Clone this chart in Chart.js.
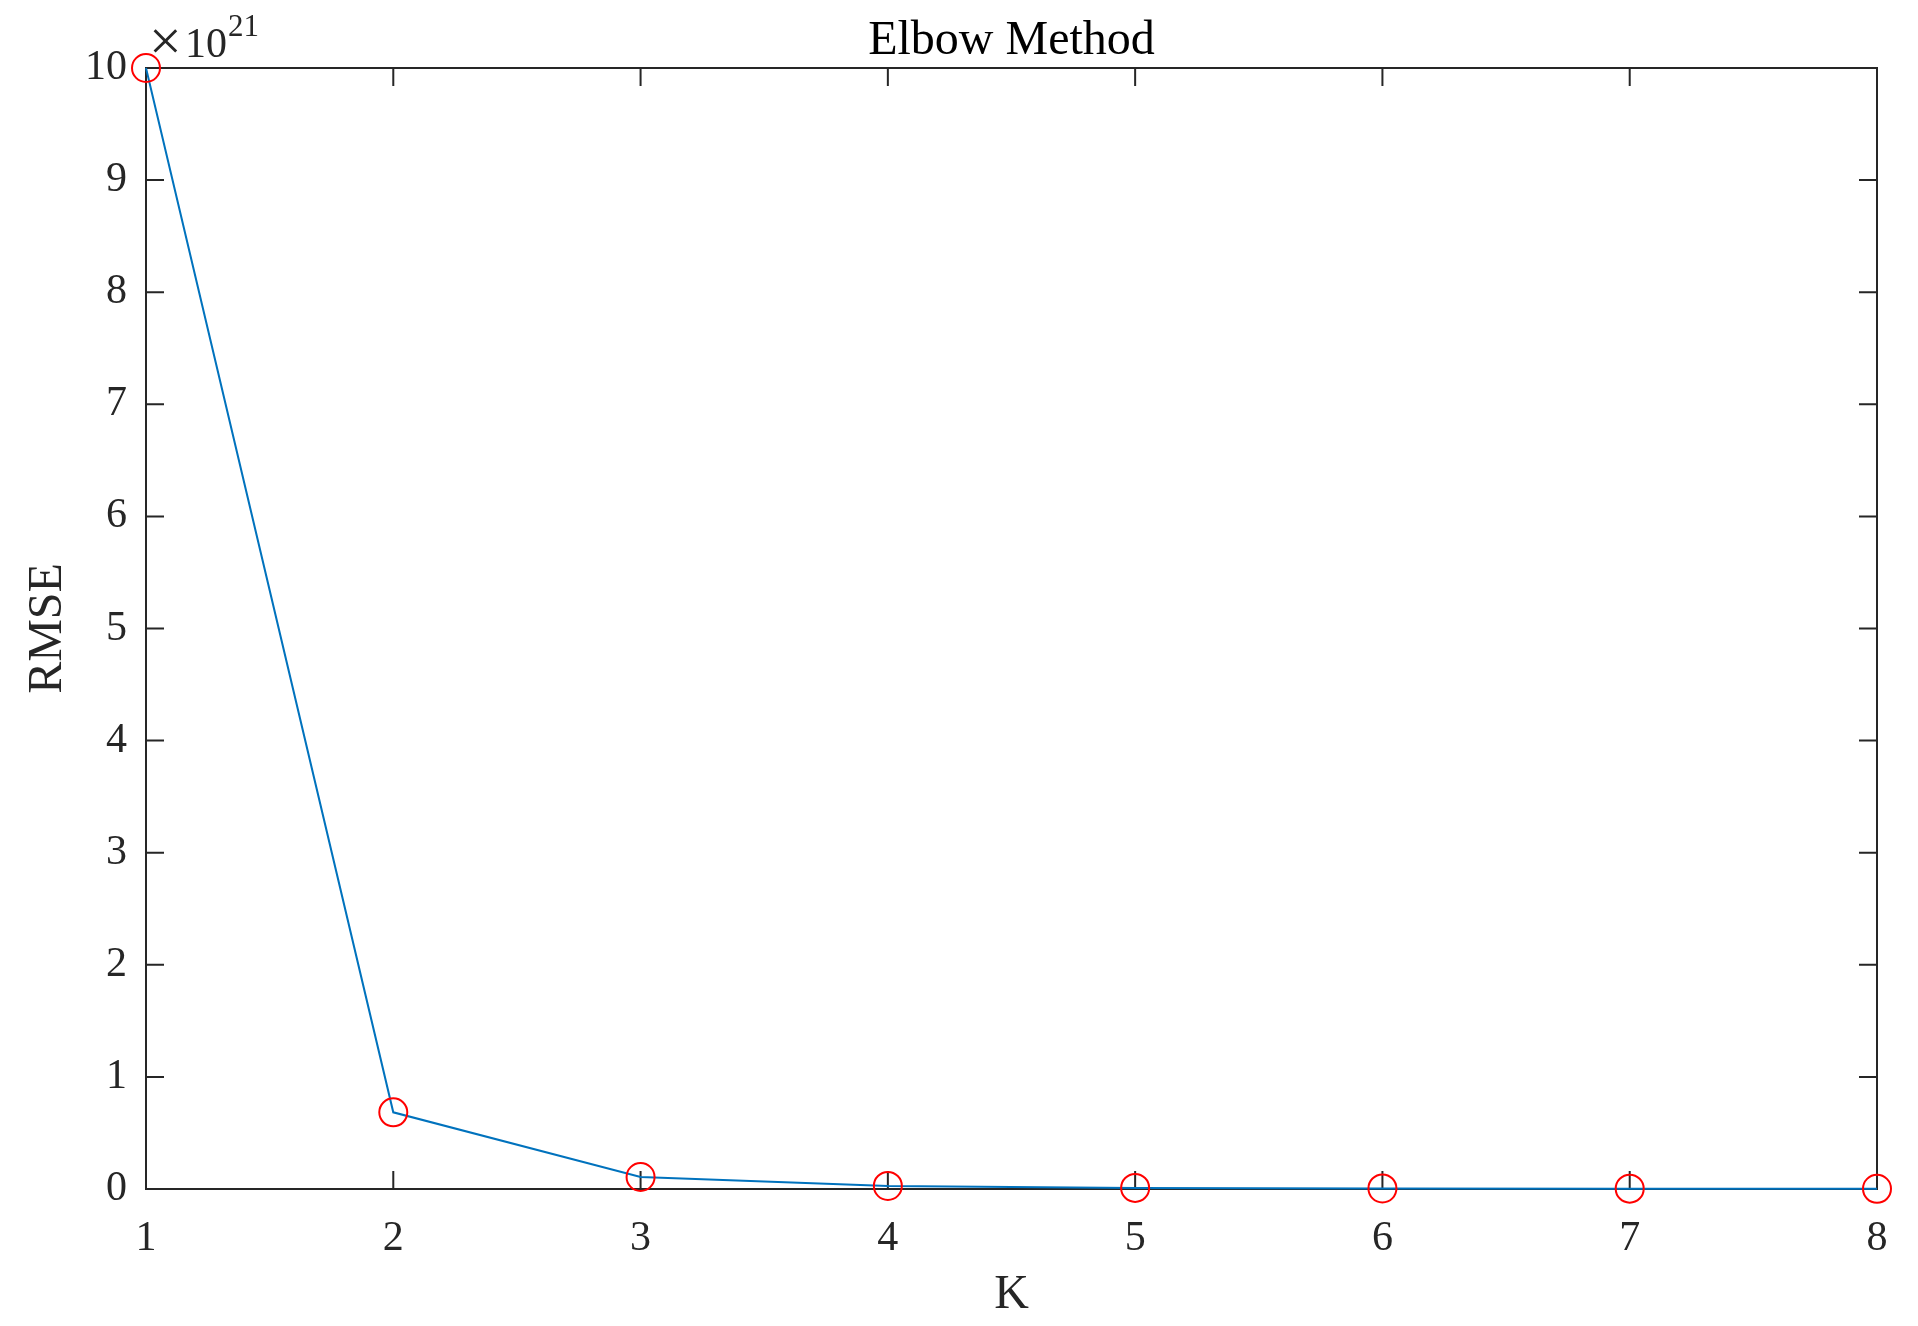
<!DOCTYPE html>
<html>
<head>
<meta charset="utf-8">
<script src="https://cdn.jsdelivr.net/npm/chart.js@4"></script>
<style>
  html, body { margin: 0; padding: 0; background: #ffffff; }
  #wrap { width: 1918px; height: 1326px; }
</style>
</head>
<body>
<div id="wrap"><canvas id="myChart" width="1918" height="1326"></canvas></div>
<script>
// data (RMSE in units of 10^21)
var K = [1, 2, 3, 4, 5, 6, 7, 8];
var RMSE = [10.0, 0.684, 0.107, 0.027, 0.010, 0.005, 0.003, 0.002];
var yExponent = '21';
var titleText = 'Elbow Method';
var xTitle = 'K';
var yTitle = 'RMSE';

var axisColor = '#262626';
var fontFam = "'Liberation Serif', 'Times New Roman', serif";

var points = K.map(function (k, i) { return { x: k, y: RMSE[i] }; });

// box around the plot, inward ticks on all four sides, titles
var matlabAxes = {
    id: 'matlabAxes',
    beforeDatasetsDraw: function (chart) {
        var ctx = chart.ctx;
        var a = chart.chartArea;
        var xs = chart.scales.x, ys = chart.scales.y;
        var tl = 18;
        ctx.save();
        ctx.strokeStyle = axisColor;
        ctx.lineWidth = 2;
        ctx.strokeRect(a.left, a.top, a.right - a.left, a.bottom - a.top);
        ctx.beginPath();
        xs.ticks.forEach(function (t) {
            var px = xs.getPixelForValue(t.value);
            ctx.moveTo(px, a.bottom); ctx.lineTo(px, a.bottom - tl);
            ctx.moveTo(px, a.top); ctx.lineTo(px, a.top + tl);
        });
        ys.ticks.forEach(function (t) {
            var py = ys.getPixelForValue(t.value);
            ctx.moveTo(a.left, py); ctx.lineTo(a.left + tl, py);
            ctx.moveTo(a.right, py); ctx.lineTo(a.right - tl, py);
        });
        ctx.stroke();
        ctx.restore();
    },
    afterDraw: function (chart) {
        var ctx = chart.ctx;
        var a = chart.chartArea;
        var cx = (a.left + a.right) / 2;
        var cy = (a.top + a.bottom) / 2;
        ctx.save();
        ctx.fillStyle = '#000000';
        ctx.font = '48px ' + fontFam;
        ctx.textAlign = 'center';
        ctx.textBaseline = 'alphabetic';
        ctx.fillText(titleText, cx, 54);

        ctx.fillStyle = axisColor;
        ctx.fillText(xTitle, cx, 1308);

        ctx.save();
        ctx.translate(61, cy);
        ctx.rotate(-Math.PI / 2);
        ctx.fillText(yTitle, 0, 0);
        ctx.restore();

        // exponent label
        ctx.textAlign = 'left';
        ctx.font = '58px ' + fontFam;
        ctx.fillText('\u00d7', a.left + 3, 60);
        ctx.font = '42px ' + fontFam;
        ctx.fillText('10', a.left + 39, 57);
        ctx.font = '31px ' + fontFam;
        ctx.fillText(yExponent, a.left + 82, 36);
        ctx.restore();
    }
};

var ctx = document.getElementById('myChart');
var chartData = {
    type: 'line',
    data: {
        datasets: [{
            label: 'RMSE',
            data: points,
            fill: false,
            borderColor: '#0072BD',
            backgroundColor: 'rgba(0,0,0,0)',
            borderWidth: 2,
            pointRadius: 14,
            pointStyle: 'circle',
            pointBorderColor: '#FF0000',
            pointBackgroundColor: 'rgba(0,0,0,0)',
            pointBorderWidth: 2,
            tension: 0,
            clip: false
        }]
    },
    options: {
        responsive: false,
        animation: false,
        layout: { padding: { left: 0, right: 41, top: 68, bottom: 0 } },
        plugins: {
            legend: { display: false },
            title: { display: false },
            tooltip: { enabled: false }
        },
        scales: {
            x: {
                type: 'linear',
                min: 1,
                max: 8,
                ticks: {
                    stepSize: 1,
                    color: axisColor,
                    padding: 25,
                    font: { family: fontFam, size: 42 }
                },
                grid: { display: false, drawTicks: false },
                border: { display: false },
                afterFit: function (s) { s.height = 137; }
            },
            y: {
                type: 'linear',
                min: 0,
                max: 10,
                ticks: {
                    stepSize: 1,
                    color: axisColor,
                    padding: 19,
                    font: { family: fontFam, size: 42 }
                },
                grid: { display: false, drawTicks: false },
                border: { display: false },
                afterFit: function (s) { s.width = 146; }
            }
        }
    },
    plugins: [matlabAxes]
};
var myChart = new Chart(ctx, chartData);
</script>
</body>
</html>
